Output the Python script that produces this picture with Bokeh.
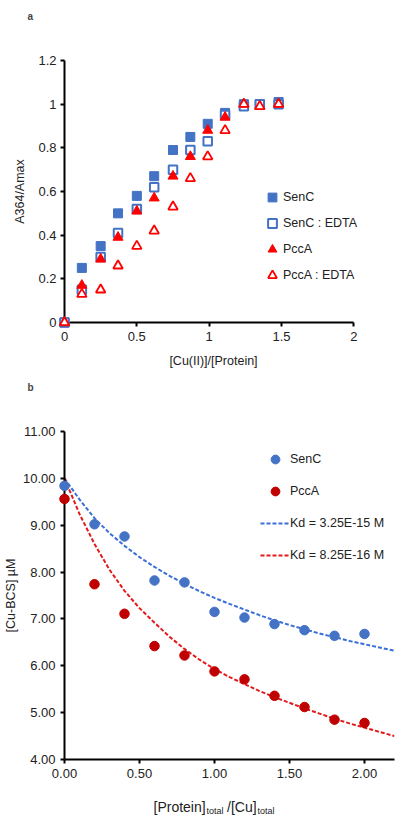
from bokeh.plotting import figure
from bokeh.layouts import column
from bokeh.models import Range1d, FixedTicker, Legend, LegendItem, Label
from bokeh.embed import file_html
from bokeh.resources import INLINE

FONT = "Liberation Sans"

# ---------------- Panel a data ----------------
a_ratio = [0, 0.12, 0.25, 0.37, 0.5, 0.62, 0.75, 0.87, 0.99, 1.11, 1.24, 1.35, 1.48]
a_senc = [0, 0.25, 0.35, 0.50, 0.58, 0.67, 0.79, 0.85, 0.91, 0.96, 1.00, 1.00, 1.01]
a_senc_edta = [0, 0.15, 0.30, 0.41, 0.52, 0.62, 0.70, 0.79, 0.83, 0.95, 0.99, 1.00, 1.00]
a_pcca = [0, 0.17, 0.29, 0.39, 0.51, 0.57, 0.67, 0.76, 0.88, 0.94, 1.00, 0.99, 1.00]
a_pcca_edta = [0, 0.13, 0.15, 0.26, 0.35, 0.42, 0.53, 0.66, 0.76, 0.88, 1.00, 0.99, 1.00]
a_xticks = [0, 0.5, 1, 1.5, 2]
a_xtick_labels = ["0", "0.5", "1", "1.5", "2"]
a_yticks = [0, 0.2, 0.4, 0.6, 0.8, 1, 1.2]
a_ytick_labels = ["0", "0.2", "0.4", "0.6", "0.8", "1", "1.2"]

# ---------------- Panel b data ----------------
b_ratio = [0, 0.2, 0.4, 0.6, 0.8, 1.0, 1.2, 1.4, 1.6, 1.8, 2.0]
b_senc = [9.84, 9.02, 8.76, 7.82, 7.78, 7.15, 7.03, 6.89, 6.76, 6.64, 6.68]
b_pcca = [9.56, 7.74, 7.11, 6.42, 6.22, 5.88, 5.71, 5.36, 5.12, 4.85, 4.78]
b_fit_x = [0, 0.1, 0.2, 0.3, 0.4, 0.5, 0.6, 0.7, 0.8, 0.9, 1.0, 1.1,
           1.2, 1.3, 1.4, 1.5, 1.6, 1.7, 1.8, 1.9, 2.0, 2.1, 2.2]
b_fit_senc = [10.0, 9.55, 9.15, 8.83, 8.56, 8.32, 8.11, 7.92, 7.75, 7.59, 7.45, 7.32,
              7.20, 7.08, 6.97, 6.87, 6.78, 6.69, 6.61, 6.53, 6.46, 6.39, 6.32]
b_fit_pcca = [10.0, 9.24, 8.60, 8.05, 7.60, 7.23, 6.92, 6.62, 6.36, 6.13, 5.93, 5.76,
              5.61, 5.46, 5.33, 5.21, 5.09, 4.98, 4.87, 4.77, 4.68, 4.59, 4.50]
b_xticks = [0, 0.5, 1, 1.5, 2]
b_xtick_labels = ["0.00", "0.50", "1.00", "1.50", "2.00"]
b_yticks = [4, 5, 6, 7, 8, 9, 10, 11]
b_ytick_labels = ["4.00", "5.00", "6.00", "7.00", "8.00", "9.00", "10.00", "11.00"]

BLUE = "#4472C4"
RED = "#FF0000"
DARKRED = "#C00000"
LINEBLUE = "#3A6FD8"
LINERED = "#E31A1C"


def style_axes(p):
    for ax in (p.xaxis[0], p.yaxis[0]):
        ax.axis_line_width = 2
        ax.axis_line_color = "black"
        ax.major_tick_line_width = 2
        ax.major_tick_line_color = "black"
        ax.major_tick_out = 4
        ax.major_tick_in = 0
        ax.minor_tick_line_color = None
        ax.major_label_text_font = FONT
        ax.major_label_text_font_size = "13px"
        ax.major_label_text_color = "#222222"
        ax.major_label_standoff = 5
        ax.axis_label_text_font = FONT
        ax.axis_label_text_font_size = "12.5px"
        ax.axis_label_text_font_style = "normal"
        ax.axis_label_text_color = "#222222"
    p.xgrid.visible = False
    p.ygrid.visible = False
    p.outline_line_color = None


def style_title(p, standoff):
    p.title.text_font = FONT
    p.title.text_font_size = "10px"
    p.title.text_font_style = "bold"
    p.title.align = "left"
    p.title.offset = -37
    p.title.standoff = standoff


# ---------------- Figure a ----------------
p1 = figure(frame_width=298, frame_height=262, x_range=Range1d(0, 2.06), y_range=Range1d(0, 1.2),
            title="a\n\n\n", output_backend="svg", toolbar_location=None,
            min_border_left=60, min_border_right=32, min_border_top=60, min_border_bottom=51)
style_axes(p1)
style_title(p1, 12)
p1.xaxis.bounds = (0, 2)
p1.xaxis.ticker = FixedTicker(ticks=a_xticks)
p1.xaxis.major_label_overrides = dict(zip(a_xticks, a_xtick_labels))
p1.yaxis.ticker = FixedTicker(ticks=a_yticks)
p1.yaxis.major_label_overrides = dict(zip(a_yticks, a_ytick_labels))
p1.yaxis.major_label_standoff = 4
p1.xaxis.axis_label = "[Cu(II)]/[Protein]"
p1.yaxis.axis_label = "A364/Amax"
p1.xaxis.axis_label_standoff = 10
p1.yaxis.axis_label_standoff = 8

r1 = p1.scatter(a_ratio, a_senc, marker="square", size=9, fill_color=BLUE,
                line_color=BLUE, level="overlay")
r2 = p1.scatter(a_ratio, a_senc_edta, marker="square", size=8.5, fill_color="white",
                line_color=BLUE, line_width=2, level="overlay")
r3 = p1.scatter(a_ratio, a_pcca, marker="triangle", size=10, fill_color=RED,
                line_color=RED, level="overlay")
r4 = p1.scatter(a_ratio, a_pcca_edta, marker="triangle", size=9.5, fill_color="white",
                line_color=RED, line_width=1.8, level="overlay")

leg1 = Legend(items=[LegendItem(label="SenC", renderers=[r1]),
                     LegendItem(label="SenC : EDTA", renderers=[r2]),
                     LegendItem(label="PccA", renderers=[r3]),
                     LegendItem(label="PccA : EDTA", renderers=[r4])],
              location=(197, 36), glyph_width=22, glyph_height=22, label_height=22,
              spacing=4, padding=0, margin=0, label_standoff=0,
              border_line_color=None, background_fill_alpha=0,
              label_text_font=FONT, label_text_font_size="12.5px",
              label_text_color="#222222")
p1.add_layout(leg1)

# ---------------- Figure b ----------------
p2 = figure(frame_width=330, frame_height=328, x_range=Range1d(0, 2.2), y_range=Range1d(4, 11),
            title="b\n\n\n", output_backend="svg", toolbar_location=None,
            min_border_left=60, min_border_right=2, min_border_top=58, min_border_bottom=26)
style_axes(p2)
style_title(p2, 12)
p2.xaxis.ticker = FixedTicker(ticks=b_xticks)
p2.xaxis.major_label_overrides = dict(zip(b_xticks, b_xtick_labels))
p2.yaxis.ticker = FixedTicker(ticks=b_yticks)
p2.yaxis.major_label_overrides = dict(zip(b_yticks, b_ytick_labels))
p2.yaxis.axis_label = "[Cu-BCS] µM"
p2.yaxis.axis_label_standoff = 2

l1 = p2.line(b_fit_x, b_fit_senc, line_color=LINEBLUE, line_width=2, line_dash="4 2")
l2 = p2.line(b_fit_x, b_fit_pcca, line_color=LINERED, line_width=2, line_dash="4 2")
c1 = p2.scatter(b_ratio, b_senc, marker="circle", size=9.5, fill_color=BLUE,
                line_color=BLUE, level="overlay")
c2 = p2.scatter(b_ratio, b_pcca, marker="circle", size=9.5, fill_color=DARKRED,
                line_color=DARKRED, level="overlay")

leg2 = Legend(items=[LegendItem(label="SenC", renderers=[c1]),
                     LegendItem(label="PccA", renderers=[c2]),
                     LegendItem(label="Kd = 3.25E-15 M", renderers=[l1]),
                     LegendItem(label="Kd = 8.25E-16 M", renderers=[l2])],
              location=(196, 193), glyph_width=30, glyph_height=22, label_height=22,
              spacing=10, padding=0, margin=0, label_standoff=0,
              border_line_color=None, background_fill_alpha=0,
              label_text_font=FONT, label_text_font_size="12.5px",
              label_text_color="#222222")
p2.add_layout(leg2)

# ---------------- x-axis label of b with subscripts ----------------
p3 = figure(frame_width=330, frame_height=30, x_range=Range1d(0, 1), y_range=Range1d(0, 1),
            output_backend="svg", toolbar_location=None,
            x_axis_location=None, y_axis_location=None, min_border=0)
p3.xgrid.visible = False
p3.ygrid.visible = False
p3.outline_line_color = None

xlabel_pieces = [("[Protein]", 89.0, 9.0, "14px"),
                 ("total", 142.1, 5.0, "9px"),
                 ("/[Cu]", 162.5, 9.0, "14px"),
                 ("total", 193.0, 5.0, "9px")]
for txt, xs, ys, fs in xlabel_pieces:
    p3.add_layout(Label(x=xs, y=ys, x_units="screen", y_units="screen", text=txt,
                        text_font=FONT, text_font_size=fs, text_color="#222222",
                        text_align="left", text_baseline="alphabetic"))

layout = column(p1, p2, p3)
open("out.html", "w").write(file_html(layout, INLINE))
